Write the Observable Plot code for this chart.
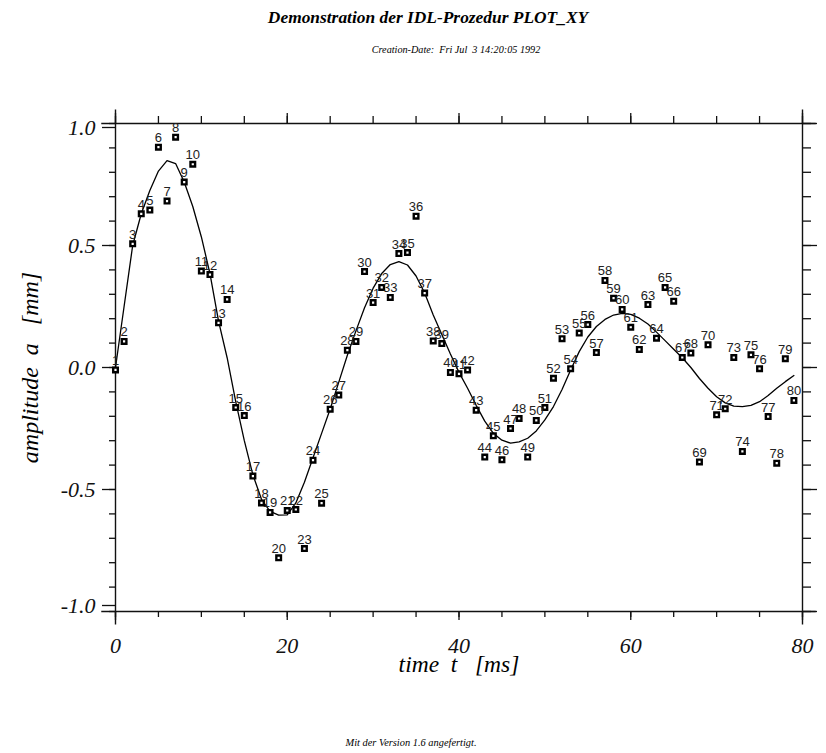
<!DOCTYPE html>
<html><head><meta charset="utf-8">
<script src="https://cdn.jsdelivr.net/npm/d3@7"></script>
<script src="https://cdn.jsdelivr.net/npm/@observablehq/plot@0.6"></script>
<style>
html,body{margin:0;padding:0;background:#fff;}
#wrap{position:relative;width:826px;height:753px;overflow:hidden;}
#wrap svg{position:absolute;left:0;top:0;}
#wrap svg g[aria-label$="tick label"] text{font-style:italic;}
.t{position:absolute;white-space:pre;font-family:"Liberation Serif","Times New Roman",Times,serif;font-style:italic;color:#000;line-height:1;transform:translateX(-50%);}
</style></head><body>
<div id="wrap">
<div class="t" style="left:428px;top:9px;font-size:17.4px;font-weight:bold;">Demonstration der IDL-Prozedur PLOT_XY</div>
<div class="t" style="left:456px;top:45px;font-size:10.2px;">Creation-Date:  Fri Jul  3 14:20:05 1992</div>
<div class="t" style="left:411px;top:738px;font-size:10.4px;">Mit der Version 1.6 angefertigt.</div>
</div>
<script>
// measured amplitudes of the 80 samples (labels 1..80 at t = 0..79 ms)
const sampleLabels = d3.range(1, 81);
const sampleAmp = [
  -0.010, 0.107, 0.507, 0.630, 0.645, 0.903, 0.682, 0.944, 0.760, 0.833,
   0.395, 0.381, 0.183, 0.279,-0.164,-0.197,-0.445,-0.555,-0.594,-0.780,
  -0.586,-0.582,-0.742,-0.380,-0.556,-0.171,-0.113, 0.071, 0.107, 0.393,
   0.266, 0.328, 0.287, 0.467, 0.471, 0.620, 0.305, 0.109, 0.098,-0.020,
  -0.026,-0.010,-0.175,-0.367,-0.280,-0.378,-0.250,-0.209,-0.367,-0.217,
  -0.164,-0.044, 0.118,-0.005, 0.141, 0.176, 0.061, 0.357, 0.284, 0.238,
   0.165, 0.074, 0.258, 0.120, 0.328, 0.272, 0.041, 0.059,-0.387, 0.093,
  -0.194,-0.169, 0.041,-0.344, 0.052,-0.005,-0.201,-0.392, 0.036,-0.135
];
// fitted curve at t = 0..79
const curveAmp = [
   0.000, 0.250, 0.500, 0.630, 0.725, 0.805, 0.848, 0.836, 0.760, 0.660,
   0.535, 0.385, 0.190, 0.040,-0.140,-0.300,-0.440,-0.540,-0.590,-0.605,
  -0.604,-0.555,-0.470,-0.370,-0.270,-0.170,-0.060, 0.050, 0.150, 0.245,
   0.325, 0.385, 0.422, 0.434, 0.420, 0.375, 0.305, 0.215, 0.135, 0.055,
  -0.020,-0.085,-0.155,-0.220,-0.270,-0.298,-0.310,-0.305,-0.290,-0.260,
  -0.215,-0.160,-0.090,-0.010, 0.065, 0.125, 0.168, 0.197, 0.215, 0.222,
   0.218, 0.202, 0.178, 0.145, 0.110, 0.075, 0.040, 0.000,-0.045,-0.085,
  -0.120,-0.145,-0.158,-0.160,-0.155,-0.140,-0.115,-0.085,-0.058,-0.033
];
const times = d3.range(0, 80);
const xMinorTicks = [0,5,10,15,20,25,30,35,40,45,50,55,60,65,70,75,80];
const xMajorTicks = [0,20,40,60,80];
const yMinorTicks = [-1,-0.9,-0.8,-0.7,-0.6,-0.5,-0.4,-0.3,-0.2,-0.1,0,0.1,0.2,0.3,0.4,0.5,0.6,0.7,0.8,0.9,1];
const yMajorTicks = [-1,-0.5,0,0.5,1];
const xTitle = "time\u00a0\u00a0t\u00a0\u00a0\u00a0[ms]";
const yTitle = "amplitude\u00a0\u00a0a\u00a0\u00a0\u00a0[mm]";

const points = times.map((t, i) => ({t, a: sampleAmp[i], label: String(sampleLabels[i])}));
const curve = times.map((t, i) => ({t, a: curveAmp[i]}));

const serif = "'Liberation Serif','Times New Roman',Times,serif";
const sans = "'Liberation Sans',Arial,Helvetica,sans-serif";
const ax = {label: null, strokeWidth: 1.3};
const blank = () => "";
const lab = {fontSize: 22, fontStyle: "italic", fontFamily: serif};
const ttl = {fontSize: 23.5, fontStyle: "italic", fontFamily: serif};

const chart = Plot.plot({
  width: 826, height: 753,
  marginLeft: 115, marginRight: 24, marginTop: 123, marginBottom: 142,
  x: {domain: [0, 80], axis: null},
  y: {domain: [-1, 1], axis: null},
  style: {fontFamily: serif, fontStyle: "italic", background: "transparent", color: "#111", overflow: "visible"},
  marks: [
    Plot.ruleY([-1, 1], {x1: -1.6, x2: 81.6, stroke: "#111", strokeWidth: 1.4}),
    Plot.ruleX([0, 80], {y1: -1.055, y2: 1.055, stroke: "#111", strokeWidth: 1.4}),
    Plot.axisX({...ax, anchor: "bottom", ticks: xMinorTicks, tickSize: 6, tickFormat: blank}),
    Plot.axisX({...ax, ...lab, anchor: "bottom", ticks: xMajorTicks, tickSize: 9, tickPadding: 17, tickFormat: d => String(d)}),
    Plot.axisX({...ax, anchor: "top", ticks: xMinorTicks, tickSize: 8, tickFormat: blank}),
    Plot.axisX({...ax, anchor: "top", ticks: xMajorTicks, tickSize: 11, tickFormat: blank}),
    Plot.axisY({...ax, anchor: "left", ticks: yMinorTicks, tickSize: 6, tickFormat: blank}),
    Plot.axisY({...ax, ...lab, anchor: "left", ticks: [-0.5, 0, 0.5], tickSize: 13, tickPadding: 7, tickFormat: d => d.toFixed(1)}),
    Plot.axisY({...ax, ...lab, anchor: "left", ticks: [1], tickSize: 13, tickPadding: 7, dy: 4, tickFormat: d => d.toFixed(1)}),
    Plot.axisY({...ax, ...lab, anchor: "left", ticks: [-1], tickSize: 13, tickPadding: 7, dy: -6, tickFormat: d => d.toFixed(1)}),
    Plot.axisY({...ax, anchor: "right", ticks: yMinorTicks, tickSize: 8, tickFormat: blank}),
    Plot.axisY({...ax, anchor: "right", ticks: yMajorTicks, tickSize: 14, tickFormat: blank}),
    Plot.line(curve, {x: "t", y: "a", stroke: "#000", strokeWidth: 1.3}),
    Plot.dot(points, {x: "t", y: "a", symbol: "square", r: 2.6, stroke: "#000", strokeWidth: 2.4, fill: "#fff"}),
    Plot.text(points, {x: "t", y: "a", text: "label", dy: -5, lineAnchor: "bottom", fontFamily: sans, fontStyle: "normal", fontSize: 13, fill: "#222"}),
    Plot.text([xTitle], {text: d => d, frameAnchor: "bottom", textAnchor: "middle", dy: 60, ...ttl, fill: "#000"}),
    Plot.text([yTitle], {text: d => d, frameAnchor: "left", textAnchor: "middle", dx: -85, rotate: -90, ...ttl, fontSize: 24, fill: "#000"})
  ]
});
const wrap = document.getElementById("wrap");
wrap.insertBefore(chart, wrap.firstChild);
</script>
</body></html>
